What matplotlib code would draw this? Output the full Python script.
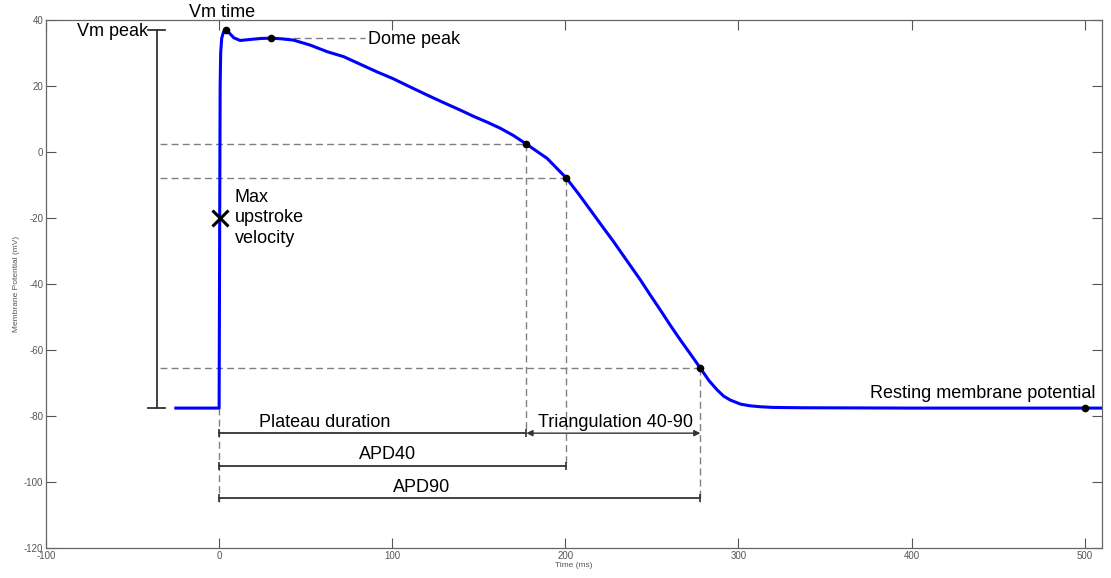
import matplotlib.pyplot as plt

plt.rcParams['font.family'] = ['Liberation Sans', 'DejaVu Sans']
plt.rcParams['axes.unicode_minus'] = False

# Action potential trace (time in ms, membrane potential in mV)
t_ms = [-25, 0, 0.2, 0.4, 0.6, 0.9, 1.5, 2.5, 3.9, 6.0, 8.5, 12.1, 17.9,
        24, 30, 36, 43, 52.6, 62.4, 71.9, 81.5, 91.1, 100.6, 110, 120,
        129.5, 139.3, 147, 155, 162.4, 170, 177.5, 189.4, 200.6, 207.5,
        214.5, 221, 227.9, 235.5, 243.4, 249, 254.9, 260.5, 266.5, 272.5,
        278, 283, 287.7, 291.5, 295.4, 301.2, 306.5, 312.7, 320, 336, 400,
        510]
vm_mv = [-77.6, -77.6, -45, -10, 20, 30, 34.5, 36.3, 37.0, 36.0, 34.6, 33.8,
         34.1, 34.4, 34.5, 34.3, 33.9, 32.4, 30.4, 28.9, 26.6, 24.3, 22.2,
         19.8, 17.3, 15.0, 12.7, 10.8, 9.0, 7.2, 5.0, 2.4, -1.9, -7.9, -12.6,
         -17.6, -22.3, -27.2, -32.9, -38.8, -43.3, -47.9, -52.4, -57.0,
         -61.4, -65.5, -69.3, -72.1, -74.0, -75.2, -76.4, -76.9, -77.2,
         -77.4, -77.5, -77.6, -77.6]

# Measured markers
peak_t, peak_v = 3.9, 37.0
dome_t, dome_v = 30.0, 34.5
plateau_t, plateau_v = 177.5, 2.4
apd40_t, apd40_v = 200.6, -7.9
apd90_t, apd90_v = 278.0, -65.5
rest_t, rest_v = 500.0, -77.6
dvdt_t, dvdt_v = 0.6, -20.0

x_ticks = [-100, 0, 100, 200, 300, 400, 500]
y_ticks = [-120, -100, -80, -60, -40, -20, 0, 20, 40]

fig = plt.figure(figsize=(11.11, 5.78), dpi=100)
ax = fig.add_axes([0.0414, 0.0519, 0.9505, 0.9135])

gray = '#808080'
dash = dict(color=gray, lw=1, dashes=(5, 3))
dark = '#333333'

# horizontal guides to the repolarisation points
for tt, vv in [(plateau_t, plateau_v), (apd40_t, apd40_v), (apd90_t, apd90_v)]:
    ax.plot([-34, tt], [vv, vv], **dash)

# vertical guides down to the duration bars
y_plateau, y_apd40, y_apd90 = -85.2, -95.2, -104.8
ax.plot([0, 0], [rest_v, -106], **dash)
ax.plot([plateau_t, plateau_t], [plateau_v, y_plateau], **dash)
ax.plot([apd40_t, apd40_t], [apd40_v, y_apd40], **dash)
ax.plot([apd90_t, apd90_t], [apd90_v, -106], **dash)

# dome peak leader
ax.plot([dome_t, 84], [dome_v, dome_v], **dash)

# the trace itself
ax.plot(t_ms, vm_mv, color='#0000ff', lw=2.2, solid_joinstyle='round')

# Vm peak bracket
ax.plot([-36, -36], [rest_v, peak_v], color=dark, lw=1.3)
ax.plot([-41, -31], [peak_v, peak_v], color=dark, lw=1.3)
ax.plot([-41, -31], [rest_v, rest_v], color=dark, lw=1.3)

# duration bars
for t_end, yy in [(plateau_t, y_plateau), (apd40_t, y_apd40), (apd90_t, y_apd90)]:
    ax.plot([0, t_end], [yy, yy], color=dark, lw=1.3)
    ax.plot([0, t_end], [yy, yy], ls='none', marker='|', ms=6, mew=1.2, color=dark)

ax.annotate('', xy=(plateau_t, y_plateau), xytext=(apd90_t, y_plateau),
            arrowprops=dict(arrowstyle='<|-|>', color=dark, lw=1,
                            mutation_scale=9, shrinkA=0, shrinkB=0))

# black dots
ax.plot([peak_t, dome_t, plateau_t, apd40_t, apd90_t, rest_t],
        [peak_v, dome_v, plateau_v, apd40_v, apd90_v, rest_v],
        ls='none', marker='o', ms=4.5, color='black')
ax.plot(dvdt_t, dvdt_v, ls='none', marker='x', ms=11, mew=2.2, color='black')

fs = 13
ax.text(-41, peak_v - 0.5, 'Vm peak', ha='right', va='center', fontsize=fs)
ax.text(1.7, 42.4, 'Vm time', ha='center', va='center', fontsize=fs, clip_on=False)
ax.text(86, dome_v - 0.3, 'Dome peak', ha='left', va='center', fontsize=fs)
ax.text(9, dvdt_v, 'Max\nupstroke\nvelocity', ha='left', va='center',
        fontsize=fs, linespacing=1.3)
ax.text(506, -73.2, 'Resting membrane potential', ha='right', va='center', fontsize=fs)
ax.text(61, -82, 'Plateau duration', ha='center', va='center', fontsize=fs)
ax.text(229, -82, 'Triangulation 40-90', ha='center', va='center', fontsize=fs)
ax.text(97, -91.8, 'APD40', ha='center', va='center', fontsize=fs)
ax.text(117, -101.8, 'APD90', ha='center', va='center', fontsize=fs)

ax.set_xlim(-100, 510)
ax.set_ylim(-120, 40)
ax.set_xticks(x_ticks)
ax.set_yticks(y_ticks)
ax.tick_params(direction='in', length=7, width=0.8, colors='#555555',
               labelsize=7, top=True, right=True, pad=2)
for sp in ax.spines.values():
    sp.set_color('#666666')
    sp.set_linewidth(0.9)
ax.set_xlabel('Time (ms)', fontsize=6, color='#555555', labelpad=1)
ax.set_ylabel('Membrane Potential (mV)', fontsize=6, color='#555555', labelpad=3)

fig.savefig('out.png', dpi=100)
